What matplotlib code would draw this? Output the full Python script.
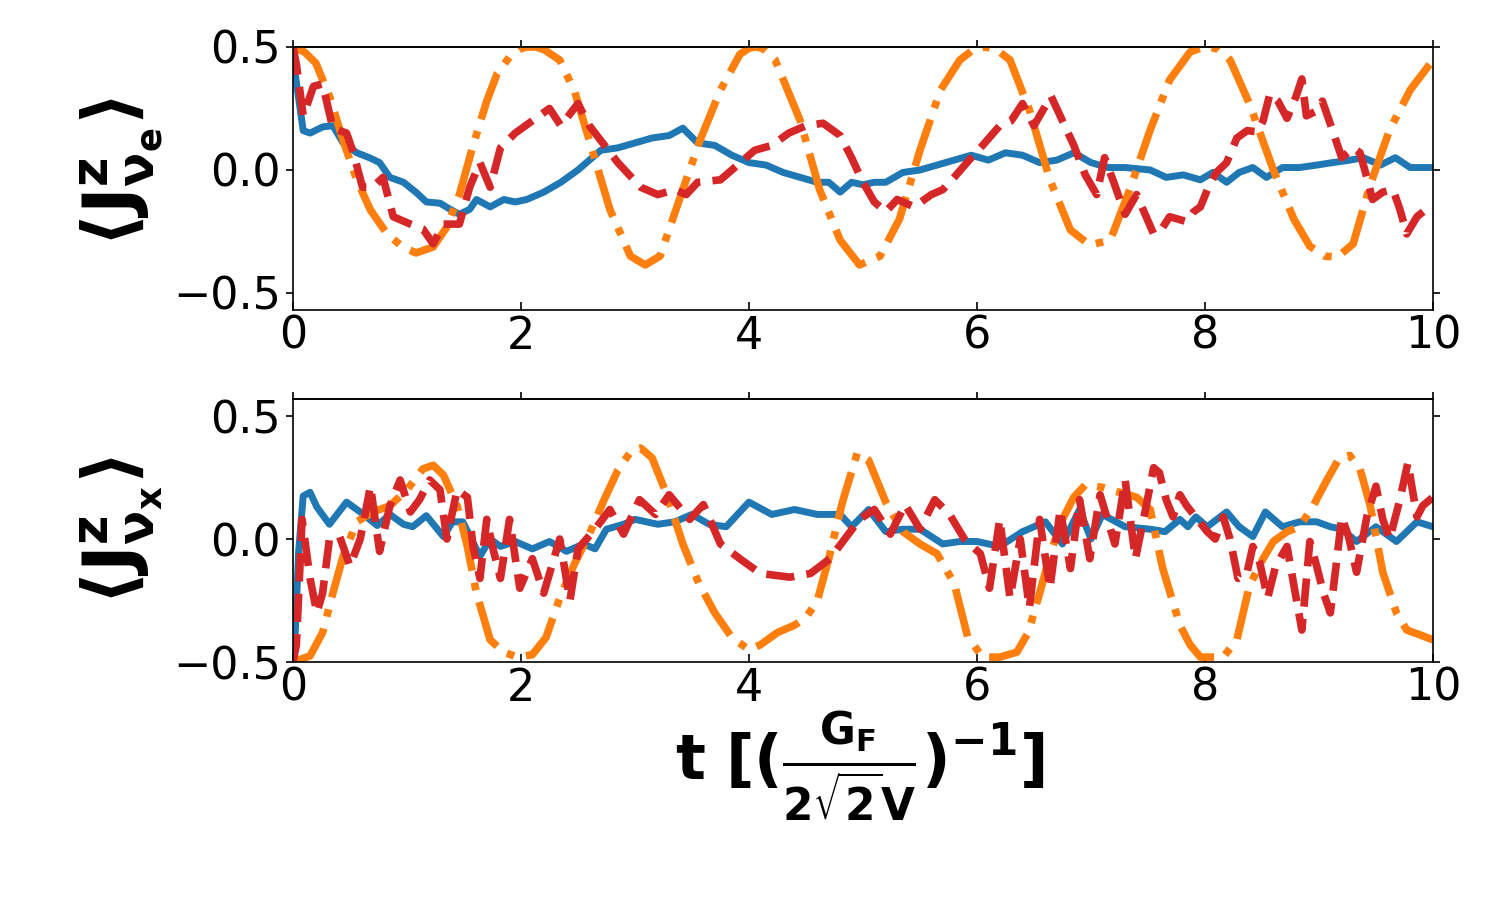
"""
Two-panel time evolution of <J^z> for nu_e and nu_x.
"""

import matplotlib
matplotlib.use("Agg")
import matplotlib.pyplot as plt

plt.rcParams['mathtext.fontset'] = 'dejavusans'
plt.rcParams['mathtext.default'] = 'bf'

# ---- top panel: <J^z_{nu_e}> ----
t_e_blue = [0, 0.02, 0.09, 0.15, 0.26, 0.35, 0.44, 0.56, 0.67, 0.76,
            0.85, 0.97, 1.09, 1.17, 1.29, 1.38, 1.46, 1.55, 1.61, 1.73,
            1.85, 1.95, 2.05, 2.2, 2.35, 2.5, 2.6, 2.7, 2.85, 3.0,
            3.15, 3.3, 3.42, 3.55, 3.7, 3.85, 4.0, 4.15, 4.3, 4.45,
            4.6, 4.7, 4.8, 4.9, 5.0, 5.1, 5.2, 5.35, 5.5, 5.65,
            5.8, 5.95, 6.1, 6.25, 6.4, 6.55, 6.7, 6.85, 7.0, 7.15,
            7.3, 7.52, 7.66, 7.81, 7.96, 8.07, 8.19, 8.3, 8.42, 8.54,
            8.68, 8.83, 8.98, 9.12, 9.27, 9.39, 9.54, 9.67, 9.8, 10.0]
y_e_blue = [0.5, 0.39, 0.16, 0.15, 0.175, 0.18, 0.11, 0.07, 0.05, 0.03,
            -0.03, -0.05, -0.095, -0.13, -0.135, -0.16, -0.18, -0.16, -0.12, -0.15,
            -0.12, -0.13, -0.12, -0.09, -0.05, 0.0, 0.04, 0.08, 0.09, 0.11,
            0.13, 0.14, 0.17, 0.11, 0.10, 0.06, 0.03, 0.02, -0.01, -0.03,
            -0.05, -0.05, -0.09, -0.05, -0.06, -0.05, -0.05, -0.01, 0.0, 0.02,
            0.04, 0.06, 0.04, 0.07, 0.06, 0.03, 0.04, 0.07, 0.03, 0.01,
            0.01, 0.0, -0.03, -0.02, -0.04, -0.01, -0.05, -0.01, 0.01, -0.03,
            0.01, 0.01, 0.02, 0.03, 0.04, 0.05, 0.02, 0.05, 0.01, 0.01]

t_e_orange = [0, 0.1, 0.2, 0.32, 0.44, 0.56, 0.68, 0.82, 0.96, 1.08,
              1.23, 1.35, 1.46, 1.58, 1.70, 1.79, 1.9, 1.98, 2.05, 2.13,
              2.2, 2.34, 2.47, 2.6, 2.78, 2.96, 3.09, 3.22, 3.39, 3.57,
              3.75, 3.92, 4.0, 4.05, 4.12, 4.23, 4.45, 4.62, 4.8, 4.97,
              5.15, 5.32, 5.5, 5.68, 5.85, 5.97, 6.07, 6.17, 6.29, 6.46,
              6.64, 6.82, 6.99, 7.17, 7.34, 7.52, 7.69, 7.87, 7.96, 8.04,
              8.12, 8.22, 8.39, 8.6, 8.78, 8.92, 9.05, 9.16, 9.3, 9.45,
              9.62, 9.8, 10.0]
y_e_orange = [0.5, 0.48, 0.435, 0.30, 0.12, -0.04, -0.163, -0.256, -0.313, -0.337,
              -0.313, -0.232, -0.10, 0.10, 0.28, 0.39, 0.46, 0.49, 0.5, 0.5,
              0.49, 0.447, 0.32, 0.12, -0.16, -0.35, -0.386, -0.35, -0.12, 0.12,
              0.325, 0.47, 0.495, 0.5, 0.495, 0.447, 0.2, -0.08, -0.285, -0.386,
              -0.35, -0.2, 0.08, 0.325, 0.447, 0.49, 0.5, 0.49, 0.447, 0.244,
              -0.04, -0.244, -0.305, -0.285, -0.08, 0.163, 0.366, 0.48, 0.495, 0.5,
              0.49, 0.447, 0.27, 0.0, -0.2, -0.31, -0.35, -0.355, -0.3, -0.06,
              0.163, 0.325, 0.447]

t_e_red = [0, 0.03, 0.09, 0.18, 0.26, 0.35, 0.47, 0.53, 0.61, 0.7,
           0.79, 0.88, 1.03, 1.14, 1.23, 1.32, 1.46, 1.55, 1.64, 1.73,
           1.82, 1.95, 2.1, 2.25, 2.35, 2.5, 2.6, 2.7, 2.85, 2.95,
           3.05, 3.2, 3.35, 3.45, 3.55, 3.75, 3.9, 4.05, 4.2, 4.35,
           4.5, 4.65, 4.8, 4.9, 5.0, 5.1, 5.2, 5.3, 5.45, 5.6,
           5.7, 5.8, 5.95, 6.05, 6.2, 6.3, 6.4, 6.5, 6.65, 6.75,
           6.85, 6.95, 7.05, 7.12, 7.2, 7.3, 7.4, 7.55, 7.62, 7.69,
           7.84, 7.9, 7.96, 8.03, 8.1, 8.19, 8.28, 8.37, 8.46, 8.51,
           8.57, 8.64, 8.72, 8.8, 8.85, 8.89, 8.98, 9.03, 9.12, 9.2,
           9.3, 9.36, 9.42, 9.47, 9.56, 9.65, 9.71, 9.77, 9.86, 9.94,
           10.0]
y_e_red = [0.5, 0.43, 0.22, 0.34, 0.35, 0.17, 0.15, 0.07, -0.07, -0.07,
           -0.03, -0.19, -0.22, -0.24, -0.30, -0.22, -0.22, -0.07, 0.03, -0.07,
           0.09, 0.15, 0.2, 0.25, 0.18, 0.27, 0.18, 0.12, 0.03, -0.02,
           -0.07, -0.1, -0.08, -0.1, -0.05, -0.04, 0.02, 0.08, 0.1, 0.15,
           0.18, 0.19, 0.14, 0.05, -0.05, -0.13, -0.17, -0.12, -0.15, -0.1,
           -0.08, -0.03, 0.05, 0.1, 0.18, 0.2, 0.27, 0.18, 0.3, 0.2,
           0.1, -0.02, -0.1, 0.05, -0.05, -0.18, -0.1, -0.26, -0.24, -0.19,
           -0.21, -0.17, -0.15, -0.07, -0.01, 0.03, 0.13, 0.16, 0.155, 0.2,
           0.31, 0.28, 0.21, 0.3, 0.37, 0.22, 0.24, 0.28, 0.16, 0.05,
           0.09, 0.07, -0.03, -0.12, -0.09, -0.08, -0.16, -0.26, -0.19, -0.16,
           -0.17]

# ---- bottom panel: <J^z_{nu_x}> ----
t_x_blue = [0, 0.02, 0.05, 0.09, 0.15, 0.21, 0.32, 0.47, 0.59, 0.74,
            0.85, 0.97, 1.05, 1.17, 1.32, 1.4, 1.49, 1.64, 1.73, 1.82,
            1.95, 2.1, 2.25, 2.4, 2.55, 2.65, 2.75, 2.9, 3.0, 3.2,
            3.35, 3.5, 3.65, 3.8, 4.0, 4.2, 4.4, 4.6, 4.8, 4.9,
            5.05, 5.2, 5.35, 5.5, 5.7, 5.85, 6.0, 6.2, 6.4, 6.6,
            6.75, 6.9, 7.0, 7.1, 7.3, 7.52, 7.65, 7.78, 7.85, 7.92,
            8.02, 8.19, 8.3, 8.42, 8.53, 8.68, 8.83, 8.98, 9.1, 9.2,
            9.33, 9.5, 9.68, 9.86, 10.0]
y_x_blue = [-0.5, -0.38, -0.05, 0.175, 0.19, 0.13, 0.06, 0.15, 0.11, 0.055,
            0.1, 0.06, 0.05, 0.095, 0.01, 0.07, 0.07, -0.07, 0.0, -0.03,
            -0.01, -0.04, -0.01, -0.05, -0.02, -0.04, 0.04, 0.06, 0.08, 0.06,
            0.07, 0.1, 0.06, 0.05, 0.15, 0.1, 0.12, 0.1, 0.1, 0.05,
            0.12, 0.03, 0.04, 0.04, -0.02, -0.01, -0.01, -0.03, 0.03, 0.07,
            -0.02, 0.12, 0.0, 0.1, 0.05, 0.04, 0.03, 0.08, 0.05, 0.09,
            0.05, 0.11, 0.05, 0.01, 0.11, 0.05, 0.07, 0.07, 0.05, 0.04,
            -0.01, 0.05, -0.01, 0.07, 0.05]

t_x_orange = [0, 0.15, 0.26, 0.35, 0.44, 0.56, 0.7, 0.85, 1.0, 1.14,
              1.23, 1.32, 1.44, 1.53, 1.61, 1.73, 1.85, 1.97, 2.1, 2.22,
              2.34, 2.47, 2.6, 2.72, 2.85, 2.97, 3.05, 3.15, 3.28, 3.42,
              3.56, 3.7, 3.85, 4.0, 4.1, 4.25, 4.4, 4.5, 4.6, 4.7,
              4.82, 4.95, 5.05, 5.2, 5.35, 5.5, 5.65, 5.8, 5.92, 6.05,
              6.2, 6.35, 6.45, 6.55, 6.65, 6.75, 6.85, 6.95, 7.1, 7.25,
              7.4, 7.52, 7.63, 7.78, 7.87, 7.96, 8.16, 8.28, 8.39, 8.51,
              8.6, 8.72, 8.83, 8.95, 9.07, 9.18, 9.27, 9.36, 9.45, 9.56,
              9.68, 9.77, 9.89, 10.0]
y_x_orange = [-0.5, -0.475, -0.38, -0.22, -0.07, 0.07, 0.11, 0.135, 0.2, 0.285,
              0.3, 0.26, 0.135, -0.03, -0.22, -0.41, -0.46, -0.48, -0.47, -0.4,
              -0.24, -0.1, 0.02, 0.15, 0.28, 0.36, 0.37, 0.33, 0.18, -0.02,
              -0.18, -0.3, -0.4, -0.45, -0.43, -0.38, -0.35, -0.32, -0.25, -0.08,
              0.15, 0.35, 0.32, 0.15, 0.03, -0.02, -0.06, -0.18, -0.4, -0.48,
              -0.48, -0.46, -0.38, -0.22, -0.05, 0.08, 0.17, 0.22, 0.21, 0.19,
              0.17, 0.12, -0.12, -0.35, -0.43, -0.48, -0.48, -0.41, -0.19, -0.08,
              -0.01, 0.03, 0.05, 0.135, 0.24, 0.33, 0.34, 0.285, 0.135, -0.135,
              -0.3, -0.37, -0.39, -0.41]

t_x_red = [0, 0.03, 0.08, 0.15, 0.21, 0.26, 0.32, 0.41, 0.5, 0.59,
           0.68, 0.76, 0.85, 0.94, 1.03, 1.11, 1.2, 1.29, 1.35, 1.44,
           1.53, 1.58, 1.64, 1.7, 1.75, 1.82, 1.9, 1.99, 2.1, 2.2,
           2.34, 2.43, 2.5, 2.65, 2.78, 2.9, 3.04, 3.18, 3.3, 3.48,
           3.6, 3.75, 3.92, 4.1, 4.36, 4.54, 4.71, 4.84, 4.97, 5.1,
           5.24, 5.37, 5.5, 5.63, 5.76, 5.89, 6.03, 6.11, 6.2, 6.29,
           6.38, 6.46, 6.55, 6.64, 6.73, 6.82, 6.9, 6.99, 7.08, 7.21,
           7.3, 7.39, 7.47, 7.55, 7.6, 7.66, 7.72, 7.78, 7.84, 8.02,
           8.09, 8.16, 8.22, 8.29, 8.37, 8.42, 8.48, 8.55, 8.62, 8.72,
           8.8, 8.85, 8.92, 8.98, 9.04, 9.1, 9.15, 9.2, 9.26, 9.33,
           9.42, 9.5, 9.56, 9.62, 9.71, 9.78, 9.86, 9.91, 10.0]
y_x_red = [-0.5, -0.43, 0.08, -0.16, -0.3, -0.22, 0.0, 0.01, -0.11, 0.0,
           0.215, -0.05, 0.135, 0.24, 0.11, 0.16, 0.24, 0.2, 0.0, 0.2,
           0.17, -0.03, -0.16, 0.08, -0.03, -0.16, 0.08, -0.2, -0.08, -0.22,
           0.0, -0.25, -0.04, 0.04, 0.12, 0.02, 0.16, 0.1, 0.18, 0.08,
           0.14, -0.02, -0.08, -0.14, -0.155, -0.14, -0.08, 0.0, 0.08, 0.12,
           0.02, 0.14, 0.04, 0.16, 0.1, 0.0, -0.06, -0.2, 0.08, -0.24,
           0.0, -0.28, 0.08, -0.2, 0.12, -0.12, 0.16, -0.08, 0.18, -0.02,
           0.24, -0.08, 0.1, 0.29, 0.27, 0.16, 0.09, 0.18, 0.135, 0.03,
           0.0, 0.09, 0.0, -0.16, -0.135, -0.03, -0.095, -0.24, -0.11, -0.03,
           -0.24, -0.37, -0.01, -0.11, -0.22, -0.3, -0.11, 0.09, 0.01, -0.135,
           0.09, 0.215, 0.08, 0.0, 0.16, 0.31, 0.09, 0.135, 0.17]

x_ticks = [0, 2, 4, 6, 8, 10]
y_ticks = [-0.5, 0.0, 0.5]
y_labels = [r'$\langle J^z_{\nu_e} \rangle$', r'$\langle J^z_{\nu_x} \rangle$']
x_label = r'$t\ [(\frac{G_F}{2\sqrt{2}V})^{-1}]$'

BLUE, ORANGE, RED = '#1f77b4', '#ff7f0e', '#d62728'


def style_axes(ax, ylim):
    ax.set_xlim(0, 10)
    ax.set_ylim(*ylim)
    ax.set_xticks(x_ticks)
    ax.set_yticks(y_ticks)
    for sp in ax.spines.values():
        sp.set_linewidth(1.2)
    ax.tick_params(axis='x', direction='in', length=6, width=1.2,
                   labelsize=32, bottom=True, top=False)
    ax.tick_params(axis='y', direction='out', length=5, width=1.2,
                   labelsize=32, left=True, right=True)
    top = ax.secondary_xaxis('top')
    top.set_xticks(x_ticks)
    top.tick_params(direction='out', length=5, width=1.2, labeltop=False)
    top.spines['top'].set_linewidth(1.2)


fig = plt.figure(figsize=(15, 9), dpi=100)
ax1 = fig.add_axes([0.1953, 0.6556, 0.76, 0.2922])
ax2 = fig.add_axes([0.1953, 0.2644, 0.76, 0.2922])

panels = [
    (ax1, (t_e_blue, y_e_blue), (t_e_orange, y_e_orange), (t_e_red, y_e_red), (-0.569, 0.5)),
    (ax2, (t_x_blue, y_x_blue), (t_x_orange, y_x_orange), (t_x_red, y_x_red), (-0.5, 0.569)),
]

for i, (ax, blue, orange, red, ylim) in enumerate(panels):
    ax.plot(*blue, color=BLUE, lw=5, ls='-')
    ax.plot(*orange, color=ORANGE, lw=5.5, ls='-.')
    ax.plot(*red, color=RED, lw=5.5, ls='--')
    style_axes(ax, ylim)
    ax.set_ylabel(y_labels[i], fontsize=52, va='center')

ax1.yaxis.set_label_coords(-0.15, 0.525)
ax2.yaxis.set_label_coords(-0.15, 0.50)

ax2.set_xlabel(x_label, fontsize=45, va='center')
ax2.xaxis.set_label_coords(0.497, -0.40)

fig.savefig('out.png', dpi=100)
